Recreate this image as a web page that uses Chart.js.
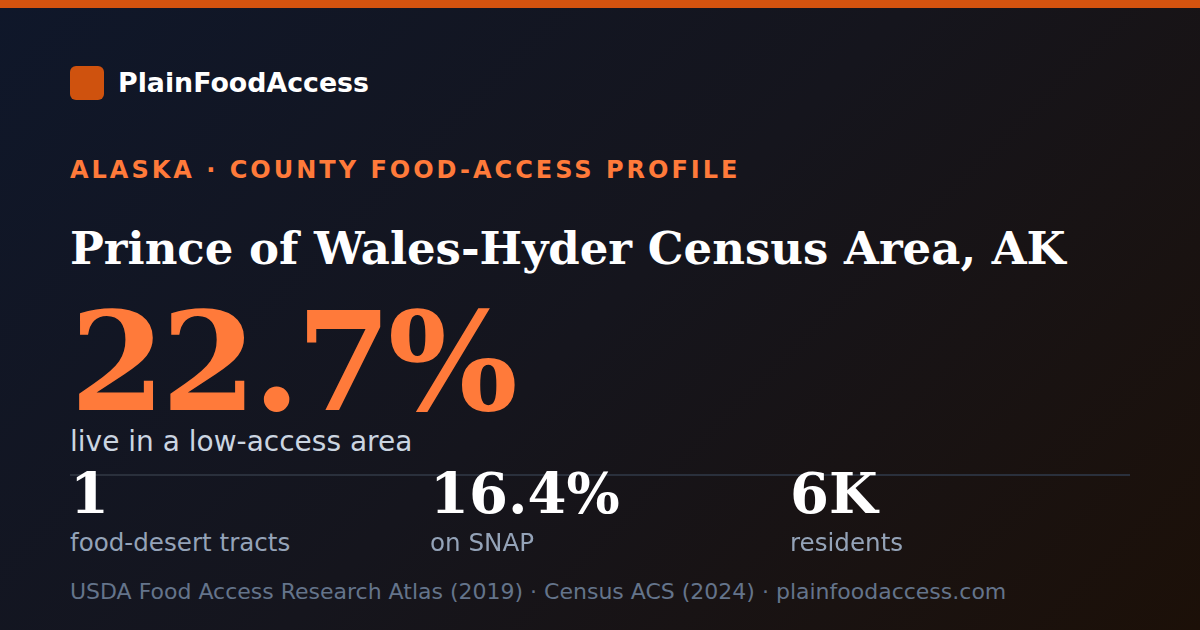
<!DOCTYPE html>
<html>
<head>
<meta charset="utf-8">
<script src="https://cdn.jsdelivr.net/npm/chart.js@4"></script>
<style>
html,body{margin:0;padding:0;}
body{width:1200px;height:630px;overflow:hidden;position:relative;
  background:linear-gradient(135deg,#0f172a 0%,#15151d 50%,#1c1008 100%);
  font-family:"DejaVu Sans",sans-serif;}
.topbar{position:absolute;left:0;top:0;width:1200px;height:8px;background:#d4530f;}
.t{position:absolute;line-height:1;white-space:nowrap;margin:0;}
.logo{position:absolute;left:70px;top:66px;width:34px;height:34px;border-radius:6px;background:#cf520e;}
.brand{left:118px;top:69.6px;font-size:26.8px;font-weight:bold;color:#ffffff;}
.eyebrow{left:70px;top:158px;font-size:24px;font-weight:bold;color:#ff7a3a;letter-spacing:3px;}
.title{left:70px;top:226.2px;font-family:"DejaVu Serif",serif;font-weight:bold;font-size:45px;color:#ffffff;}
.big{left:70px;top:299.9px;line-height:0.9;font-family:"DejaVu Serif",serif;font-weight:bold;font-size:137px;color:#ff7a3a;letter-spacing:-4px;}
.sub{left:70px;top:428.3px;font-size:28px;color:#cbd5e1;}
.statv{top:465.3px;font-family:"DejaVu Serif",serif;font-weight:bold;font-size:56px;color:#ffffff;}
.statl{top:530.9px;font-size:24.6px;color:#94a3b8;}
.foot{left:70px;top:580.7px;font-size:22px;color:#64748b;}
#divwrap{position:absolute;left:70px;top:469.3px;width:1060px;height:12px;}
</style>
</head>
<body>
<div class="topbar"></div>
<div class="logo"></div>
<div class="t brand" id="brand"></div>
<div class="t eyebrow" id="eyebrow"></div>
<div class="t title" id="title"></div>
<div class="t big" id="big"></div>
<div class="t sub" id="sub"></div>
<div id="divwrap"><canvas id="divider"></canvas></div>
<div id="stats"></div>
<div class="t foot" id="foot"></div>
<script>
const brandName = "PlainFoodAccess";
const eyebrowText = "ALASKA · COUNTY FOOD-ACCESS PROFILE";
const countyName = "Prince of Wales-Hyder Census Area, AK";
const headlineValue = "22.7%";
const headlineLabel = "live in a low-access area";
const statValues = ["1", "16.4%", "6K"];
const statLabels = ["food-desert tracts", "on SNAP", "residents"];
const sourceText = "USDA Food Access Research Atlas (2019) · Census ACS (2024) · plainfoodaccess.com";
const dividerPoints = [0, 0];

document.getElementById('brand').textContent = brandName;
document.getElementById('eyebrow').textContent = eyebrowText;
document.getElementById('title').textContent = countyName;
document.getElementById('big').textContent = headlineValue;
document.getElementById('sub').textContent = headlineLabel;
document.getElementById('foot').textContent = sourceText;
const statsEl = document.getElementById('stats');
const colX = [70, 430, 790];
statValues.forEach((v, i) => {
  const a = document.createElement('div');
  a.className = 't statv'; a.style.left = colX[i] + 'px'; a.textContent = v;
  const b = document.createElement('div');
  b.className = 't statl'; b.style.left = colX[i] + 'px'; b.textContent = statLabels[i];
  statsEl.appendChild(a); statsEl.appendChild(b);
});

new Chart(document.getElementById('divider'), {
  type: 'line',
  data: { labels: ['a', 'b'], datasets: [{ data: dividerPoints, borderColor: '#2a303c', borderWidth: 2, pointRadius: 0, fill: false }] },
  options: {
    responsive: true, maintainAspectRatio: false, animation: false,
    layout: { padding: 0 },
    plugins: { legend: { display: false }, tooltip: { enabled: false } },
    scales: {
      x: { display: false, offset: false },
      y: { display: false, min: -1, max: 1 }
    }
  }
});
</script>
</body>
</html>
